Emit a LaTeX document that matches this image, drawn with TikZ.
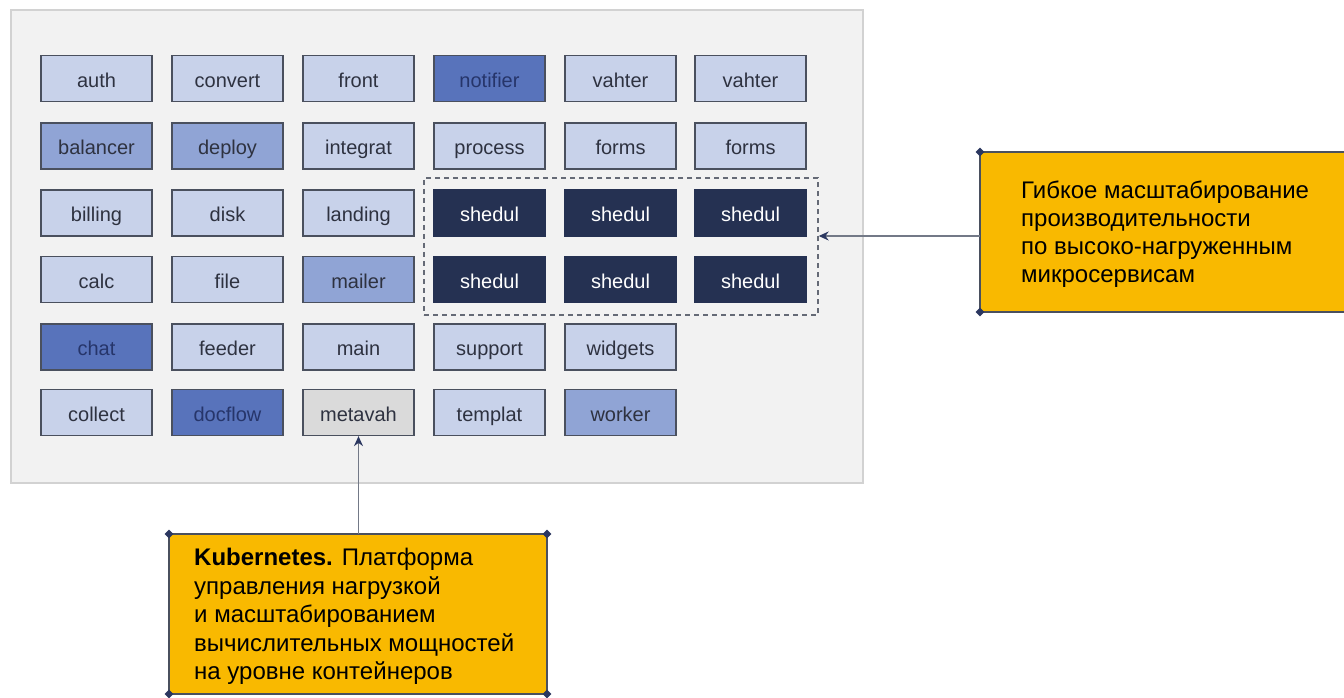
\documentclass[tikz,border=0pt]{standalone}
\usepackage{fontspec}
\setmainfont{Liberation Sans}
\usetikzlibrary{arrows.meta,shapes.geometric}
\definecolor{panel}{HTML}{F2F2F2}
\definecolor{panelline}{HTML}{D2D2D2}
\definecolor{light}{HTML}{C8D2EA}
\definecolor{medium}{HTML}{90A4D5}
\definecolor{darkb}{HTML}{5873BB}
\definecolor{navy}{HTML}{253152}
\definecolor{grayb}{HTML}{DADADA}
\definecolor{edge}{HTML}{4A505E}
\definecolor{txt}{HTML}{2E3240}
\definecolor{txtnavy}{HTML}{26356A}
\definecolor{yel}{HTML}{F9B900}
\definecolor{conn}{HTML}{737987}
\definecolor{dia}{HTML}{2B3760}
\tikzset{
  x=1pt, y=-1pt,
  svc/.style={draw=edge, line width=1.3pt, minimum width=111pt, minimum height=46pt,
    inner sep=0pt, text height=18pt, text depth=0.4pt,
    font=\fontsize{20}{24}\selectfont, text=txt, fill=light},
  mid/.style={svc, fill=medium},
  drk/.style={svc, fill=darkb, text=txtnavy},
  nv/.style={svc, fill=navy, draw=navy, text=white},
  gr/.style={svc, fill=grayb},
  callout/.style={draw=edge, line width=1.3pt, fill=yel},
  note/.style={anchor=north west, align=left, inner sep=0pt, text=black},
  dmd/.style={diamond, fill=dia, inner sep=0pt, minimum size=9pt},
  conline/.style={draw=conn, line width=1.2pt, -{Stealth[length=10pt,width=9pt,fill=dia,color=dia]}},
}
\begin{document}
\begin{tikzpicture}
\useasboundingbox (0,0) rectangle (1344,698);
\fill[white] (0,0) rectangle (1344,698);
\draw[panelline, fill=panel, line width=1.2pt] (11,10) rectangle (863,483);
% row 1
\node[svc] (auth) at (96.5,78.5) {auth};
\node[svc] (convert) at (227.5,78.5) {convert};
\node[svc] (front) at (358.5,78.5) {front};
\node[drk] (notifier) at (489.5,78.5) {notifier};
\node[svc] (vahterA) at (620.5,78.5) {vahter};
\node[svc] (vahterB) at (750.5,78.5) {vahter};
% row 2
\node[mid] (balancer) at (96.5,146) {balancer};
\node[mid] (deploy) at (227.5,146) {deploy};
\node[svc] (integrat) at (358.5,146) {integrat};
\node[svc] (process) at (489.5,146) {process};
\node[svc] (formsA) at (620.5,146) {forms};
\node[svc] (formsB) at (750.5,146) {forms};
% row 3
\node[svc] (billing) at (96.5,213) {billing};
\node[svc] (disk) at (227.5,213) {disk};
\node[svc] (landing) at (358.5,213) {landing};
\node[nv] (s1) at (489.5,213) {shedul};
\node[nv] (s2) at (620.5,213) {shedul};
\node[nv] (s3) at (750.5,213) {shedul};
% row 4
\node[svc] (calc) at (96.5,279.5) {calc};
\node[svc] (file) at (227.5,279.5) {file};
\node[mid] (mailer) at (358.5,279.5) {mailer};
\node[nv] (s4) at (489.5,279.5) {shedul};
\node[nv] (s5) at (620.5,279.5) {shedul};
\node[nv] (s6) at (750.5,279.5) {shedul};
% row 5
\node[drk] (chat) at (96.5,347) {chat};
\node[svc] (feeder) at (227.5,347) {feeder};
\node[svc] (main) at (358.5,347) {main};
\node[svc] (support) at (489.5,347) {support};
\node[svc] (widgets) at (620.5,347) {widgets};
% row 6
\node[svc] (collect) at (96.5,412.5) {collect};
\node[drk] (docflow) at (227.5,412.5) {docflow};
\node[gr] (metavah) at (358.5,412.5) {metavah};
\node[svc] (templat) at (489.5,412.5) {templat};
\node[mid] (worker) at (620.5,412.5) {worker};
% dashed group
\node[draw=edge!85, dashed, dash pattern=on 5pt off 4pt, line width=1.4pt,
  inner sep=0pt, minimum width=394pt, minimum height=137pt] (grp) at (621,246.5) {};
% right callout
\draw[callout] (1350,152) -- (980,152) -- (980,312) -- (1350,312);
\node[dmd] (rtl) at (980,152) {};
\node[dmd] (rbl) at (980,312) {};
\coordinate (rc) at (980,236);
\node[note, font=\fontsize{24}{27.9}\selectfont] (rtext) at (1021,180.5) {Гибкое масштабирование\\производительности\\по высоко-нагруженным\\микросервисам};
\draw[conline] (rc) -- (grp.east |- rc);
% bottom callout
\draw[callout] (169,534) rectangle (547,694);
\node[dmd] (btl) at (169,534) {};
\node[dmd] (btr) at (547,534) {};
\node[dmd] (bbl) at (169,694) {};
\node[dmd] (bbr) at (547,694) {};
\coordinate (bc) at (358.5,534);
\node[note, font=\fontsize{24}{28.5}\selectfont] (btext) at (194,548) {\textbf{Kubernetes.} Платформа\\управления нагрузкой\\и масштабированием\\вычислительных мощностей\\на уровне контейнеров};
\draw[conline] (bc) -- (metavah.south);
\end{tikzpicture}
\end{document}
